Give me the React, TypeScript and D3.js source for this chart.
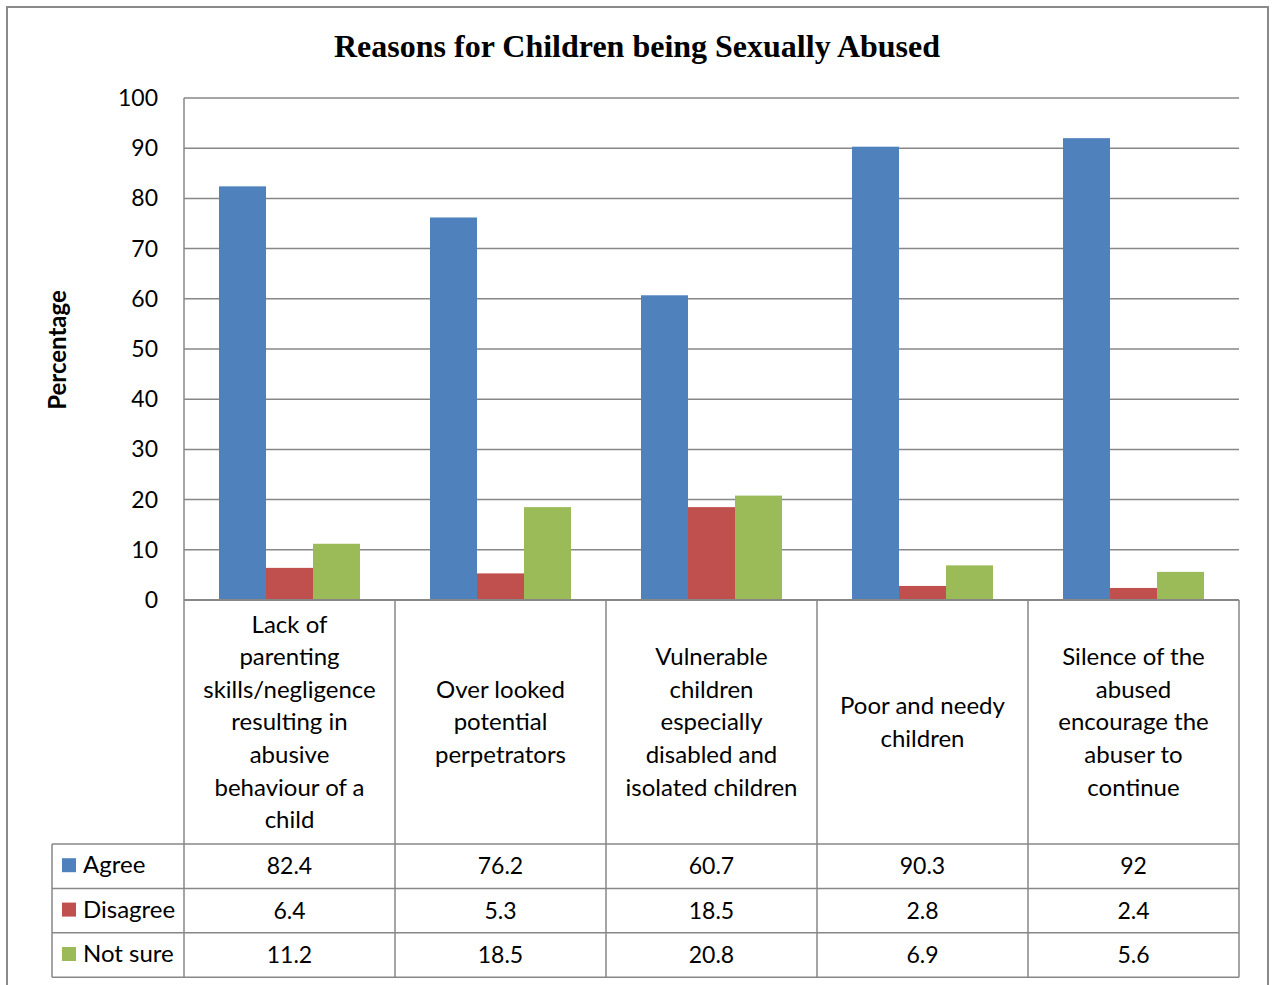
import React from "react";
import * as d3 from "d3";

const categories: string[][] = [
  ["Lack of", "parenting", "skills/negligence", "resulting in", "abusive", "behaviour of a", "child"],
  ["Over looked", "potential", "perpetrators"],
  ["Vulnerable", "children", "especially", "disabled and", "isolated children"],
  ["Poor and needy", "children"],
  ["Silence of the", "abused", "encourage the", "abuser to", "continue"],
];
const seriesNames = ["Agree", "Disagree", "Not sure"];
const agree = [82.4, 76.2, 60.7, 90.3, 92];
const disagree = [6.4, 5.3, 18.5, 2.8, 2.4];
const notSure = [11.2, 18.5, 20.8, 6.9, 5.6];
const seriesLabels: string[][] = [
  ["82.4", "76.2", "60.7", "90.3", "92"],
  ["6.4", "5.3", "18.5", "2.8", "2.4"],
  ["11.2", "18.5", "20.8", "6.9", "5.6"],
];
const yTicks = [0, 10, 20, 30, 40, 50, 60, 70, 80, 90, 100];
const colors = ["#4F81BD", "#C0504D", "#9BBB59"];

const W = 1272;
const H = 985;
const plotLeft = 184;
const plotRight = 1239;
const plotTop = 98;
const plotBottom = 600;
const tableTop = 844;
const rowH = 44.4;
const tableLeft = 52;
const font = "Lato, 'Open Sans', sans-serif";
const grid = "#878787";

export default function App() {
  const series = [agree, disagree, notSure];
  const idx = categories.map((_, i) => String(i));
  const x = d3.scaleBand<string>().domain(idx).range([plotLeft, plotRight]).paddingInner(0).paddingOuter(0);
  const inner = d3
    .scaleBand<string>()
    .domain(seriesNames)
    .range([0, x.bandwidth()])
    .paddingInner(0)
    .paddingOuter(0.745);
  const y = d3.scaleLinear().domain([0, 100]).range([plotBottom, plotTop]);
  const lineH = 32.6;
  const catMid = (plotBottom + tableTop) / 2;
  const tableBottom = tableTop + rowH * 3;

  return (
    <>
      <style>{`body{margin:0}`}</style>
      <svg width={W} height={H} style={{ display: "block", fontFamily: font }}>
        <rect x={0} y={0} width={W} height={H} fill="#fff" />
        <rect x={7} y={7} width={1261} height={1000} fill="#fff" stroke="#8a8a8a" strokeWidth={2} />
        <text
          x={637}
          y={57}
          textAnchor="middle"
          fontFamily="'Liberation Serif', 'Times New Roman', serif"
          fontWeight="bold"
          fontSize={32}
          fill="#000"
        >
          Reasons for Children being Sexually Abused
        </text>
        <text
          transform={`translate(66,${350}) rotate(-90)`}
          textAnchor="middle"
          fontWeight="bold"
          fontSize={24}
          fill="#000"
        >
          Percentage
        </text>
        {yTicks.map((t) => (
          <g key={t}>
            <line x1={plotLeft} x2={plotRight} y1={y(t)} y2={y(t)} stroke={grid} strokeWidth={1.5} />
            <text x={158} y={y(t)} dy="0.35em" textAnchor="end" fontSize={23} fill="#000">
              {t}
            </text>
          </g>
        ))}
        {series.map((vals, s) =>
          vals.map((v, i) => (
            <rect
              key={`${s}-${i}`}
              x={(x(String(i)) ?? 0) + (inner(seriesNames[s]) ?? 0)}
              y={y(v)}
              width={inner.bandwidth()}
              height={y(0) - y(v)}
              fill={colors[s]}
            />
          ))
        )}
        <line x1={plotLeft} x2={plotLeft} y1={plotTop} y2={tableBottom} stroke={grid} strokeWidth={1.5} />
        {idx.map((c) => (
          <line
            key={c}
            x1={(x(c) ?? 0) + x.bandwidth()}
            x2={(x(c) ?? 0) + x.bandwidth()}
            y1={plotBottom}
            y2={tableBottom}
            stroke={grid}
            strokeWidth={1.5}
          />
        ))}
        <line x1={plotLeft} x2={plotRight} y1={plotBottom} y2={plotBottom} stroke={grid} strokeWidth={2} />
        {[0, 1, 2, 3].map((r) => (
          <line
            key={r}
            x1={tableLeft}
            x2={plotRight}
            y1={tableTop + r * rowH}
            y2={tableTop + r * rowH}
            stroke={grid}
            strokeWidth={1.5}
          />
        ))}
        <line x1={tableLeft} x2={tableLeft} y1={tableTop} y2={tableBottom} stroke={grid} strokeWidth={1.5} />
        {categories.map((lines, i) => {
          const cx = (x(String(i)) ?? 0) + x.bandwidth() / 2;
          const start = catMid - ((lines.length - 1) * lineH) / 2;
          return lines.map((ln, k) => (
            <text key={`${i}-${k}`} x={cx} y={start + k * lineH} dy="0.35em" textAnchor="middle" fontSize={24} fill="#000">
              {ln}
            </text>
          ));
        })}
        {seriesNames.map((name, s) => {
          const cy = tableTop + rowH * s + rowH / 2;
          return (
            <g key={name}>
              <rect x={62} y={cy - 8} width={14} height={14} fill={colors[s]} />
              <text x={83} y={cy} dy="0.3em" fontSize={24} fill="#000">
                {name}
              </text>
              {seriesLabels[s].map((lab, i) => (
                <text
                  key={i}
                  x={(x(String(i)) ?? 0) + x.bandwidth() / 2}
                  y={cy}
                  dy="0.35em"
                  textAnchor="middle"
                  fontSize={23}
                  fill="#000"
                >
                  {lab}
                </text>
              ))}
            </g>
          );
        })}
      </svg>
    </>
  );
}
